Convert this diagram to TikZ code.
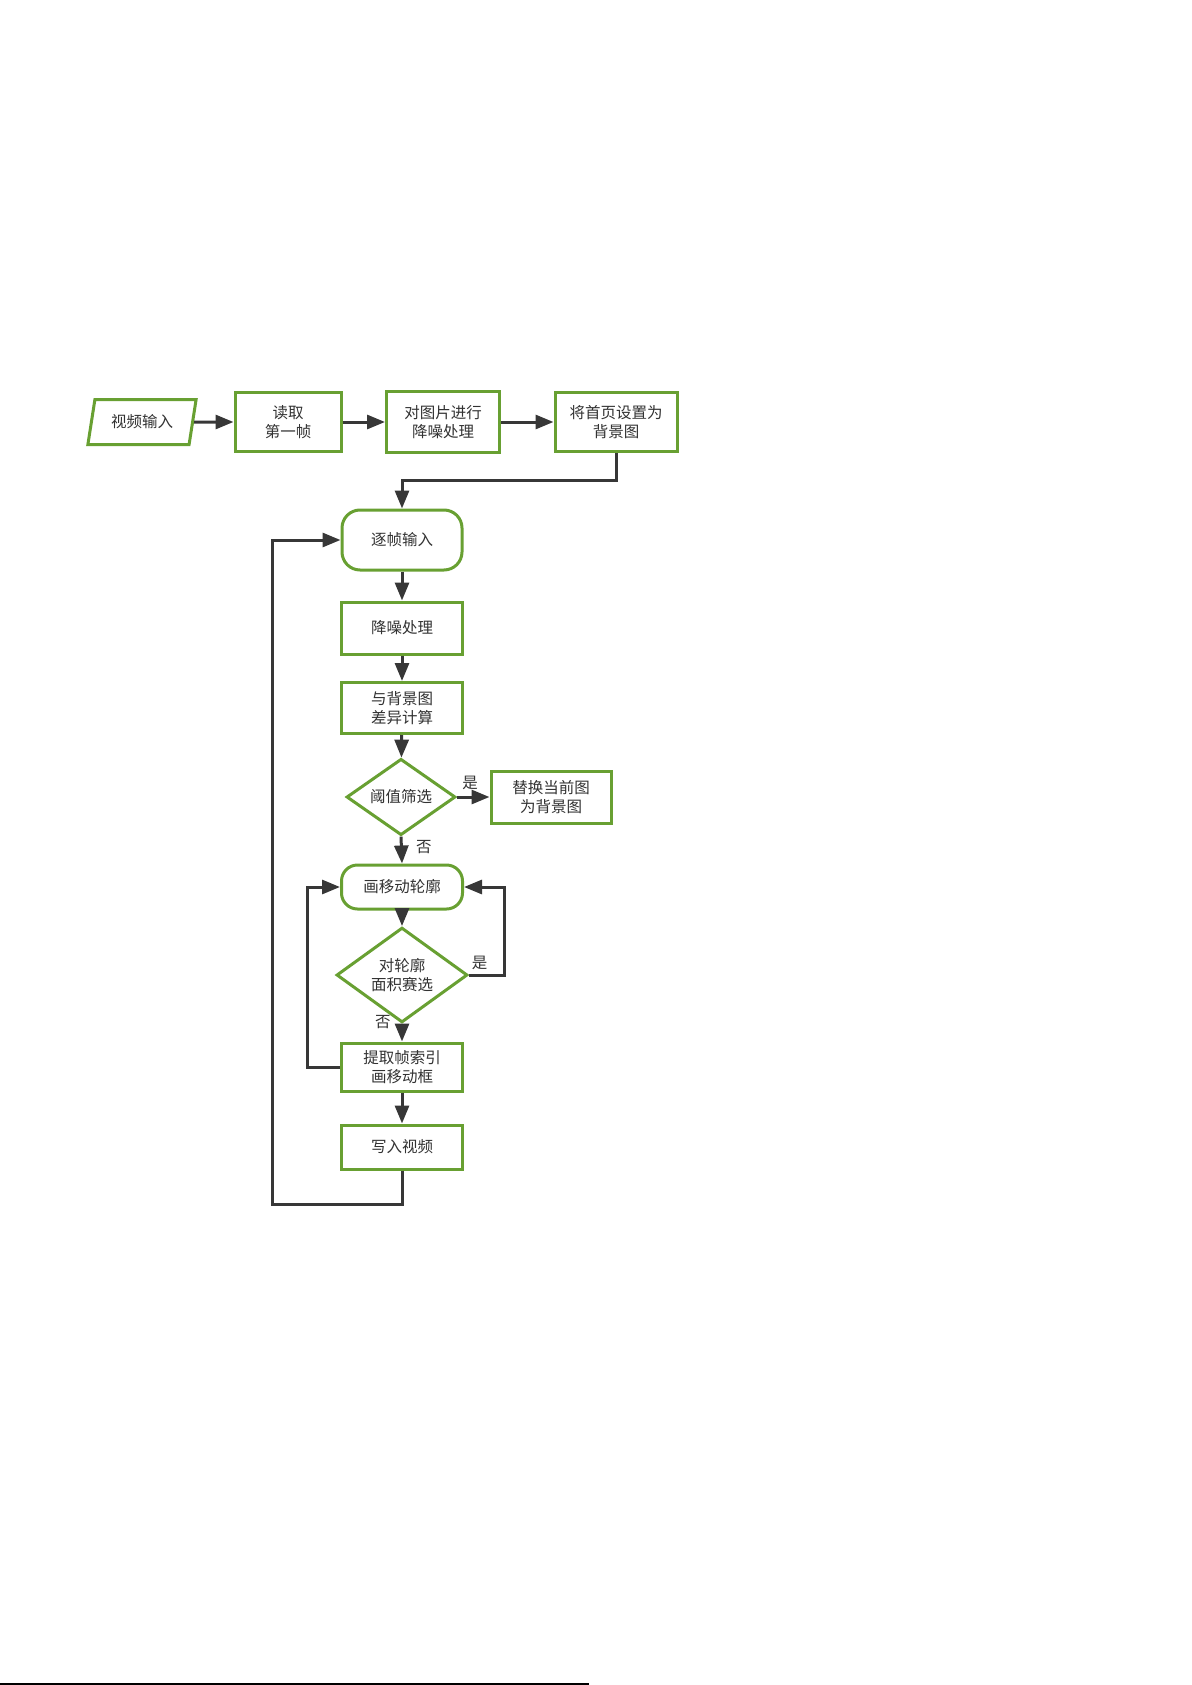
\documentclass[tikz,border=0pt]{standalone}
\usepackage{fontspec}
\newfontfamily\cjk{Noto Sans CJK SC}
\usetikzlibrary{arrows.meta,shapes.geometric}
\definecolor{boxgreen}{RGB}{104,160,50}
\definecolor{linegray}{RGB}{55,55,55}
\definecolor{textgray}{RGB}{50,50,50}
\begin{document}
\begin{tikzpicture}[x=1pt,y=-1pt,
  base/.style={draw=boxgreen, line width=3pt, fill=white, text=textgray,
    font=\cjk\fontsize{15.5}{18.5}\selectfont, align=center, inner sep=2pt},
  proc/.style={base, rectangle},
  term/.style={base, rectangle, rounded corners=18pt},
  cond/.style={base, diamond, inner sep=0pt},
  io/.style={base, trapezium, trapezium left angle=75, trapezium right angle=105,
    trapezium stretches=true},
  flow/.style={draw=linegray, line width=3pt, -{Triangle[length=18pt,width=14pt]}},
  lbl/.style={text=textgray, font=\cjk\fontsize{15.5}{18.5}\selectfont, inner sep=2pt}]
\useasboundingbox (0,0) rectangle (1191,1685);
\node[io, minimum width=109pt, minimum height=45pt] (vin) at (142,422){视频输入};
\node[proc, minimum width=106pt, minimum height=59pt] (read) at (288,422){读取\\第一帧};
\node[proc, minimum width=113pt, minimum height=61pt] (pre) at (443,422){对图片进行\\降噪处理};
\node[proc, minimum width=122pt, minimum height=59pt] (setbg) at (616,422){将首页设置为\\背景图};
\node[term, minimum width=120pt, minimum height=60pt] (frame) at (402,540){逐帧输入};
\node[proc, minimum width=121pt, minimum height=52pt] (denoise) at (402,628){降噪处理};
\node[proc, minimum width=121pt, minimum height=51pt] (diff) at (402,708){与背景图\\差异计算};
\node[cond, minimum width=109pt, minimum height=71pt] (thr) at (401,797){阈值筛选};
\node[proc, minimum width=120pt, minimum height=52pt] (repl) at (551,797){替换当前图\\为背景图};
\node[term, rounded corners=16pt, minimum width=121pt, minimum height=44pt] (contour) at (402,887){画移动轮廓};
\node[cond, minimum width=131pt, minimum height=74pt] (area) at (402,975){对轮廓\\面积赛选};
\node[proc, minimum width=121pt, minimum height=48pt] (extract) at (402,1067){提取帧索引\\画移动框};
\node[proc, minimum width=121pt, minimum height=44pt] (write) at (402,1147){写入视频};
\coordinate (j1) at (402,480);
\coordinate (r0) at (504,975);
\coordinate (l0) at (307,887);
\coordinate (b1) at (402,1204);
\coordinate (b2) at (272,540);
% top row
\draw[flow](vin.east) -- (read.west);
\draw[flow](read) -- (pre);
\draw[flow](pre) -- (setbg);
\draw[flow](setbg.south) |- (j1) -- (frame.north);
% main column
\draw[flow](frame) -- (denoise);
\draw[flow](denoise) -- (diff);
\draw[flow](diff) -- (thr);
\draw[flow](thr.east) -- node[lbl, above, pos=0.4, yshift=4pt]{是} (repl.west);
\draw[flow](thr.south) -- node[lbl, right, xshift=11pt, yshift=3pt]{否} (contour.north);
\draw[flow](contour) -- (area);
\draw[flow](area.east) -- node[lbl, above, pos=0.3, yshift=2pt]{是} (r0) |- (contour.east);
\draw[flow](area.south) -- node[lbl, left, xshift=-8pt, yshift=11pt]{否} (extract.north);
\draw[flow](extract.west) -| (l0) -- (contour.west);
\draw[flow](extract) -- (write);
\draw[flow](write.south) -- (b1) -| (b2) -- (frame.west);
% page edge
\draw[line width=1.5pt] (0,1684) -- (589,1684);
\end{tikzpicture}
\end{document}
